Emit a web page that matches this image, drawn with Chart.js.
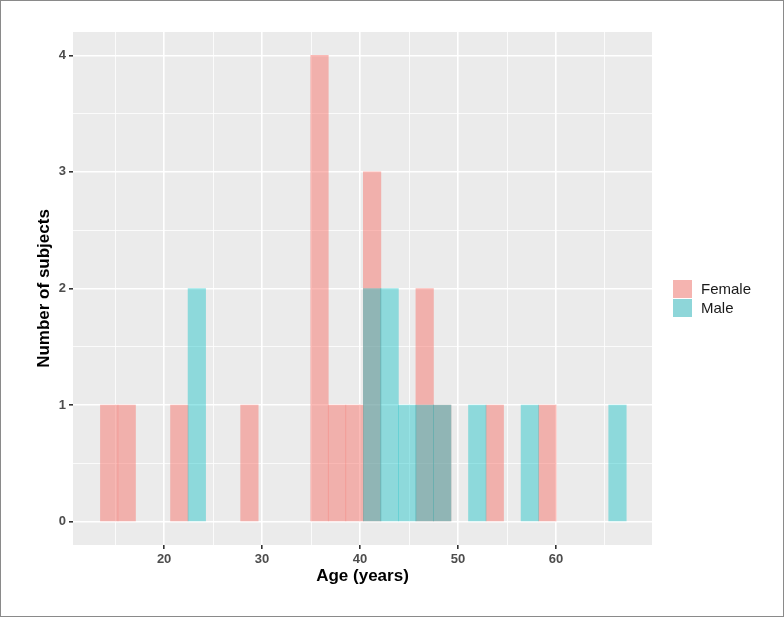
<!DOCTYPE html>
<html>
<head>
  <title>Age histogram by sex</title>
  <script src="https://cdn.jsdelivr.net/npm/chart.js"></script>
  <style>
    body { margin: 0; background: white; font-family: "Liberation Sans", Arial, sans-serif; }
    #wrap { position: relative; width: 784px; height: 617px; }
    #legend { position: absolute; left: 673px; top: 279px; font-size: 15px; color: #1a1a1a; }
    .item { display: flex; align-items: center; height: 19px; }
    .box { width: 19px; height: 18px; margin-right: 9px; }
  </style>
</head>
<body>
  <div id="wrap">
    <canvas id="ageChart" width="784" height="617"></canvas>
    <div id="legend">
      <div class="item"><span class="box" style="background:#f5b4b0"></span>Female</div>
      <div class="item"><span class="box" style="background:#8ed6d9"></span>Male</div>
    </div>
  </div>

  <script>
    // bin centres (years), 30 bins
    const binCentres = [14.395, 16.184, 17.973, 19.762, 21.551, 23.340, 25.129, 26.918, 28.707, 30.496,
                        32.285, 34.074, 35.863, 37.652, 39.441, 41.230, 43.019, 44.808, 46.597, 48.386,
                        50.175, 51.964, 53.753, 55.542, 57.331, 59.120, 60.909, 62.698, 64.487, 66.276];
    const female = [1, 1, 0, 0, 1, 0, 0, 0, 1, 0, 0, 0, 4, 1, 1, 3, 0, 0, 2, 1, 0, 0, 1, 0, 0, 1, 0, 0, 0, 0];
    const male   = [0, 0, 0, 0, 0, 2, 0, 0, 0, 0, 0, 0, 0, 0, 0, 2, 2, 1, 1, 1, 0, 1, 0, 0, 1, 0, 0, 0, 0, 1];
    const xTicks = [15, 20, 25, 30, 35, 40, 45, 50, 55, 60, 65];
    const yTicks = [0, 0.5, 1, 1.5, 2, 2.5, 3, 3.5, 4];

    // empty bins become null so no hairline is drawn at 0
    const toPoints = arr => arr.map((v, i) => ({ x: binCentres[i], y: v === 0 ? null : v }));

    // grey panel + outer frame
    const panelBg = {
      id: 'panelBg',
      beforeDraw(chart) {
        const { ctx, chartArea: a } = chart;
        ctx.save();
        ctx.fillStyle = '#ebebeb';
        ctx.fillRect(a.left, a.top, a.right - a.left, a.bottom - a.top);
        ctx.restore();
      },
      afterDraw(chart) {
        const ctx = chart.ctx;
        ctx.save();
        ctx.strokeStyle = '#8a8a8a';
        ctx.lineWidth = 1;
        ctx.strokeRect(0.5, 0.5, 783, 616);
        ctx.restore();
      }
    };

    const isMajorX = v => v % 10 === 0;
    const isMajorY = v => Number.isInteger(v);
    const tickFont = { family: '"Liberation Sans", Arial', size: 13, weight: 'bold' };
    const titleFont = { family: '"Liberation Sans", Arial', size: 17, weight: 'bold' };

    new Chart(document.getElementById('ageChart'), {
      type: 'bar',
      data: {
        datasets: [
          { label: 'Female', data: toPoints(female), backgroundColor: 'rgba(248,118,109,0.5)', order: 2 },
          { label: 'Male', data: toPoints(male), backgroundColor: 'rgba(0,191,196,0.4)', order: 1 }
        ]
      },
      options: {
        responsive: false,
        animation: false,
        layout: { padding: { top: 32, right: 132, left: 30, bottom: 26 } },
        datasets: { bar: { grouped: false, barPercentage: 1, categoryPercentage: 1, borderWidth: 0, skipNull: true } },
        plugins: { legend: { display: false }, tooltip: { enabled: false } },
        scales: {
          x: {
            type: 'linear',
            offset: false,
            min: 10.7,
            max: 69.8,
            afterBuildTicks: s => { s.ticks = xTicks.map(v => ({ value: v })); },
            afterFit: s => { s.height = 46; },
            border: { display: false },
            grid: {
              offset: false,
              color: '#ffffff',
              lineWidth: c => isMajorX(c.tick.value) ? 1.6 : 0.8,
              tickColor: c => isMajorX(c.tick.value) ? '#333333' : 'rgba(0,0,0,0)',
              tickLength: 4
            },
            ticks: {
              autoSkip: false,
              maxRotation: 0,
              padding: 3,
              color: '#4d4d4d',
              font: tickFont,
              callback: v => isMajorX(v) ? v : ''
            },
            title: { display: true, text: 'Age (years)', color: '#000', font: titleFont, padding: { top: 2, bottom: 4 } }
          },
          y: {
            min: -0.2,
            max: 4.2,
            afterBuildTicks: s => { s.ticks = yTicks.map(v => ({ value: v })); },
            afterFit: s => { s.width = 43; },
            border: { display: false },
            grid: {
              color: '#ffffff',
              lineWidth: c => isMajorY(c.tick.value) ? 1.6 : 0.8,
              tickColor: c => isMajorY(c.tick.value) ? '#333333' : 'rgba(0,0,0,0)',
              tickLength: 4
            },
            ticks: {
              autoSkip: false,
              padding: 3,
              color: '#4d4d4d',
              font: tickFont,
              callback: v => isMajorY(v) ? v : ''
            },
            title: { display: true, text: 'Number of subjects', color: '#000', font: titleFont, padding: { top: 4, bottom: 0 } }
          }
        }
      },
      plugins: [panelBg]
    });
  </script>
</body>
</html>
